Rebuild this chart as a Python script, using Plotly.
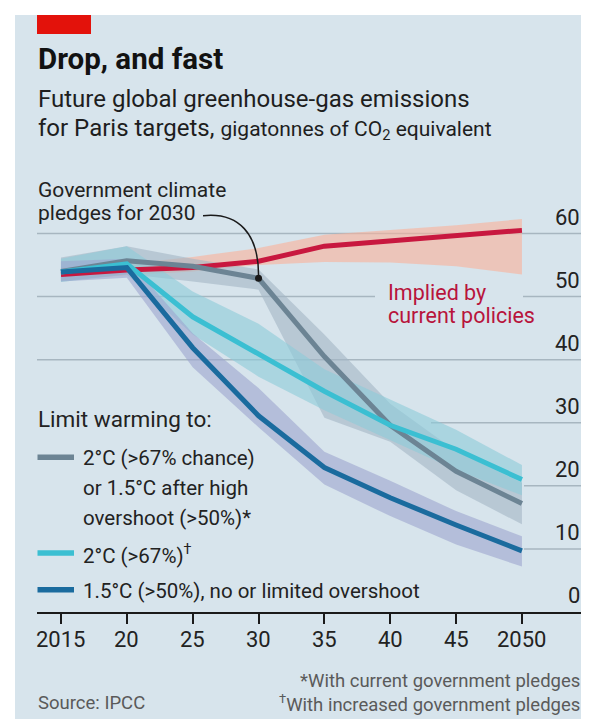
import plotly.graph_objects as go

# ---------------- data ----------------
years = [2015, 2020, 2025, 2030, 2035, 2040, 2045, 2050]
tick_labels = ["2015", "20", "25", "30", "35", "40", "45", "2050"]
y_ticks = [0, 10, 20, 30, 40, 50, 60]

policies = [53.5, 54.2, 54.6, 55.6, 58.0, 58.8, 59.6, 60.5]
policies_low = [52.6, 53.4, 54.0, 55.0, 55.5, 55.4, 54.8, 53.5]
policies_high = [54.6, 55.2, 56.3, 57.7, 59.8, 60.5, 61.3, 62.3]

overshoot = [54.0, 55.7, 54.8, 52.9, 40.5, 29.6, 22.3, 17.2]
overshoot_low = [52.4, 53.6, 52.4, 51.1, 30.8, 27.0, 19.3, 13.9]
overshoot_high = [56.2, 58.0, 56.0, 54.3, 44.0, 33.0, 25.5, 20.5]

two_deg = [53.9, 55.2, 46.8, 41.0, 35.0, 29.6, 25.8, 21.0]
two_deg_low = [52.3, 53.5, 44.0, 37.3, 32.0, 27.3, 22.5, 18.5]
two_deg_high = [56.0, 58.0, 50.8, 45.7, 38.5, 33.7, 28.9, 23.3]

one_five = [53.9, 54.6, 41.9, 31.1, 22.9, 18.1, 13.8, 9.7]
one_five_low = [52.4, 53.0, 38.8, 29.3, 20.2, 15.2, 10.7, 7.2]
one_five_high = [55.6, 56.0, 44.2, 35.5, 25.4, 20.8, 16.0, 12.0]

# ---------------- layout geometry ----------------
W, H = 589, 719
L, R, T, B = 29, 15, 194, 115
PW, PH = W - L - R, H - T - B
XR = [2013.18, 2054.56]
YR = [0, 65]

def px(p):  # pixel x -> paper x
    return (p - L) / PW

def py(p):  # pixel y -> paper y
    return (H - B - p) / PH

def dx(p):  # pixel x -> data x
    return XR[0] + (p - L) / PW * (XR[1] - XR[0])

def dy(p):  # pixel y -> data y
    return YR[0] + (H - B - p) / PH * (YR[1] - YR[0])

FONT = "Roboto"
BG = "#d7e4ec"
DARK = "#1a1a1a"

RED, GRAY, CYAN, BLUE = "#c8183f", "#6c8494", "#3bbfd2", "#1a6b9e"
RED_B = "rgba(250,176,153,0.6)"
GRAY_B = "rgba(163,181,196,0.6)"
CYAN_B = "rgba(140,203,216,0.6)"
BLUE_B = "rgba(157,165,206,0.6)"

fig = go.Figure()

def band(low, high, color):
    fig.add_trace(go.Scatter(x=years, y=low, mode="lines", line=dict(width=0),
                             hoverinfo="skip", showlegend=False))
    fig.add_trace(go.Scatter(x=years, y=high, mode="lines", line=dict(width=0),
                             fill="tonexty", fillcolor=color,
                             hoverinfo="skip", showlegend=False))

band(policies_low, policies_high, RED_B)
band(overshoot_low, overshoot_high, GRAY_B)
band(two_deg_low, two_deg_high, CYAN_B)
band(one_five_low, one_five_high, BLUE_B)

for vals, col in [(policies, RED), (overshoot, GRAY), (two_deg, CYAN), (one_five, BLUE)]:
    fig.add_trace(go.Scatter(x=years, y=vals, mode="lines",
                             line=dict(color=col, width=5, shape="linear"),
                             showlegend=False))

# pledge point (2030 on grey line)
fig.add_trace(go.Scatter(x=[years[3]], y=[overshoot[3]], mode="markers",
                         marker=dict(color=DARK, size=7), showlegend=False))

shapes = []
# background panel and red tag
shapes.append(dict(type="rect", xref="paper", yref="paper", x0=px(7), x1=px(583),
                   y0=py(717), y1=py(7), fillcolor=BG, line=dict(width=0), layer="below"))
shapes.append(dict(type="rect", xref="paper", yref="paper", x0=px(29), x1=px(83),
                   y0=py(26), y1=py(7), fillcolor="#e3120b", line=dict(width=0), layer="below"))

# gridlines (with gaps where labels sit)
GRID = "#a7b6c0"
grid_segments = {
    60: [(29, 574)],
    50: [(29, 367), (515, 574)],
    40: [(29, 574)],
    30: [(423, 574)],
    20: [(516, 574)],
    10: [(516, 574)],
}
for v, segs in grid_segments.items():
    for a, b in segs:
        shapes.append(dict(type="line", xref="paper", yref="y", x0=px(a), x1=px(b),
                           y0=v, y1=v, line=dict(color=GRID, width=1.5), layer="below"))

# curved connector from annotation to pledge point
sx, sy = dx(195), dy(207.7)
c1x, c1y = dx(230), dy(204)
c2x, c2y = dx(251.5), dy(225)
path = f"M {sx},{sy} C {c1x},{c1y} {c2x},{c2y} {years[3]},{overshoot[3]}"
shapes.append(dict(type="path", xref="x", yref="y", path=path,
                   line=dict(color=DARK, width=1.5)))

# legend swatches
for yy, col in [(449.3, GRAY), (545, CYAN), (581.7, BLUE)]:
    shapes.append(dict(type="line", xref="paper", yref="paper", x0=px(29.5), x1=px(66),
                       y0=py(yy), y1=py(yy), line=dict(color=col, width=5.5)))

annotations = []

def text(s, x, baseline, size, color=DARK, anchor="left", bold=False):
    annotations.append(dict(
        text=s, xref="paper", yref="paper", x=px(x), y=py(baseline - 0.35 * size),
        xanchor=anchor, yanchor="middle", showarrow=False,
        font=dict(family=FONT, size=size, color=color,
                  weight="bold" if bold else "normal")))

text("Drop, and fast", 28, 61, 29.5, color="#121212", bold=True)
text("Future global greenhouse-gas emissions", 28, 99, 24, color="#1e1e1e")
text("for Paris targets, <span style='font-size:21px'>gigatonnes of CO<sub>2</sub> equivalent</span>",
     28, 129, 24, color="#1e1e1e")

text("Government climate", 28, 189.5, 21, color="#222222")
text("pledges for 2030", 28, 212.5, 21, color="#222222")

text("Implied by", 378, 291.7, 21.5, color="#b8143c")
text("current policies", 378, 315, 21.5, color="#b8143c")

text("Limit warming to:", 28, 419.3, 22.5, color="#222222")
text("2°C (>67% chance)", 73, 457.3, 20.5, color="#222222")
text("or 1.5°C after high", 73, 486.7, 20.5, color="#222222")
text("overshoot (>50%)*", 73, 516.7, 20.5, color="#222222")
text("2°C (>67%)<sup>†</sup>", 73, 553.3, 20.5, color="#222222")
text("1.5°C (>50%), no or limited overshoot", 73, 590, 20.5, color="#222222")

# y tick labels (right aligned, above gridlines)
for v in y_ticks:
    gy = H - B - (v - YR[0]) / (YR[1] - YR[0]) * PH
    text(str(v), 574, gy - 8.5, 22, color="#222222", anchor="right")

# x tick labels
for yr, lab in zip(years, tick_labels):
    gx = L + (yr - XR[0]) / (XR[1] - XR[0]) * PW
    text(lab, gx, 639, 22, color="#222222", anchor="center")

text("*With current government pledges", 574, 679, 18.5, color="#5a5a5a", anchor="right")
text("<sup>†</sup>With increased government pledges", 574, 701.5, 18.5, color="#5a5a5a", anchor="right")
text("Source: IPCC", 28, 701.5, 18.5, color="#5a5a5a")

fig.update_layout(
    width=W, height=H,
    margin=dict(l=L, r=R, t=T, b=B, pad=0),
    paper_bgcolor="white", plot_bgcolor="rgba(0,0,0,0)",
    showlegend=False,
    shapes=shapes, annotations=annotations,
    font=dict(family=FONT, color=DARK),
    xaxis=dict(range=XR, tickvals=years, showticklabels=False, showgrid=False,
               zeroline=False, showline=True, linecolor=DARK, linewidth=1.6,
               ticks="outside", ticklen=10, tickwidth=1.6, tickcolor=DARK,
               fixedrange=True),
    yaxis=dict(range=YR, showgrid=False, zeroline=False, showticklabels=False,
               showline=False, fixedrange=True),
)

fig.write_html("out.html")
